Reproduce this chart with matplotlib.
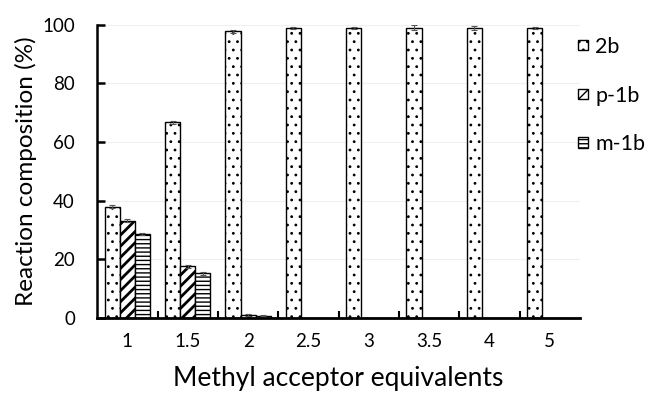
import matplotlib.pyplot as plt
import numpy as np

plt.rcParams['font.family'] = ['Lato', 'DejaVu Sans']

categories = ['1', '1.5', '2', '2.5', '3', '3.5', '4', '5']
val_2b = [38, 66.8, 97.8, 99, 99, 99, 99, 99]
err_2b = [0.4, 0.5, 0.5, 0.4, 0.4, 0.8, 0.6, 0.3]
val_p1b = [33.2, 17.6, 1.0, 0, 0, 0, 0, 0]
err_p1b = [0.5, 0.4, 0.2, 0, 0, 0, 0, 0]
val_m1b = [28.6, 15.2, 0.7, 0, 0, 0, 0, 0]
err_m1b = [0.4, 0.4, 0.2, 0, 0, 0, 0, 0]

x = np.arange(len(categories))
w = 0.25

fig = plt.figure(figsize=(6.48, 3.94), dpi=100)
ax = fig.add_axes([0.150, 0.193, 0.745, 0.744])

ax.yaxis.grid(True, color='#f0f0f0', linewidth=0.8)
ax.set_axisbelow(True)

ekw = dict(ecolor='#555555', elinewidth=0.8, capsize=2.5, capthick=0.8)
plt.rcParams['hatch.linewidth'] = 0.8
ax.bar(x - w, val_2b, w, yerr=err_2b, color='white', edgecolor='black',
       hatch='..', linewidth=1.0, label='2b', error_kw=ekw)
plt.rcParams['hatch.linewidth'] = 2.0
ax.bar(x, val_p1b, w, yerr=err_p1b, color='white', edgecolor='black',
       hatch='///', linewidth=1.0, label='p-1b', error_kw=ekw)
plt.rcParams['hatch.linewidth'] = 1.0
ax.bar(x + w, val_m1b, w, yerr=err_m1b, color='white', edgecolor='black',
       hatch='----', linewidth=1.0, label='m-1b', error_kw=ekw)

ax.set_xlim(-0.5, len(categories) - 0.5)
ax.set_ylim(0, 100)
ax.set_yticks(range(0, 101, 20))
ax.set_xticks(x)
ax.set_xticklabels(categories)
ax.set_xticks(x[:-1] + 0.5, minor=True)
ax.tick_params(axis='x', which='major', length=0, pad=11, labelsize=13.5)
ax.tick_params(axis='x', which='minor', direction='in', length=5, width=1.5)
ax.tick_params(axis='y', direction='in', length=6, width=1.8, labelsize=13.5, pad=16)

for s in ['top', 'right']:
    ax.spines[s].set_visible(False)
ax.spines['left'].set_linewidth(1.8)
ax.spines['bottom'].set_linewidth(2)

ax.set_xlabel('Methyl acceptor equivalents', fontsize=19, labelpad=11)
ax.set_ylabel('Reaction composition (%)', fontsize=17.5, labelpad=4)

ax.legend(loc='upper left', bbox_to_anchor=(578 / 648, 357 / 394),
          bbox_transform=fig.transFigure, frameon=False,
          fontsize=15.5, handlelength=0.45, handleheight=0.35, handletextpad=0.35,
          labelspacing=1.33, borderpad=0, borderaxespad=0)

fig.savefig('out.png', dpi=100)
